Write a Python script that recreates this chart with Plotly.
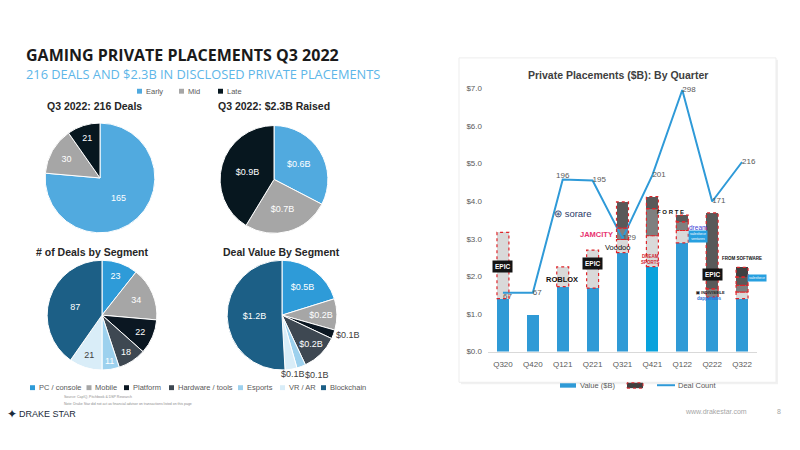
import plotly.graph_objects as go

W, H = 800, 450
def px(x): return x / W
def py(y): return 1 - y / H

# ---------------- data ----------------
stage_labels = ["Early", "Mid", "Late"]
deal_counts = [165, 30, 21]
raised_values = [0.75, 0.60, 0.95]          # slice sizes as drawn
raised_text = ["$0.6B", "$0.7B", "$0.9B"]   # labels as printed

segment_labels = ["PC / console", "Mobile", "Platform", "Hardware / tools",
                  "Esports", "VR / AR", "Blockchain"]
segment_deals = [23, 34, 22, 18, 11, 21, 87]
segment_values = [0.46, 0.21, 0.06, 0.25, 0.06, 0.08, 1.16]
segment_value_text = ["$0.5B", "$0.2B", "$0.1B", "$0.2B", "$0.1B", "$0.1B", "$1.2B"]

quarters = ["Q320", "Q420", "Q121", "Q221", "Q321", "Q421", "Q122", "Q222", "Q322"]
value_b = [1.41, 0.97, 1.73, 1.69, 2.63, 2.26, 2.89, 1.45, 1.41]
big_deal_1 = [1.76, 0, 0.52, 1.01, 0.35, 0.82, 0.33, 0.22, 0.17]
big_deal_2 = [0, 0, 0, 0, 0.30, 0.72, 0.23, 2.02, 0.18]
big_deal_3 = [0, 0, 0, 0, 0.70, 0.32, 0.18, 0, 0.22]
big_deal_4 = [0, 0, 0, 0, 0, 0, 0, 0, 0.26]
deal_count = [67, 67, 196, 195, 129, 201, 298, 171, 216]

# ---------------- styles ----------------
stage_colors = ["#51AADF", "#A6A6A6", "#07171F"]
segment_colors = ["#2E9BD8", "#A6A6A6", "#0B1722", "#3E4852", "#9DD1EE", "#D9EDF8", "#1C5F86"]
BLUE = "#2F9AD6"
bar_colors = [BLUE] * 9
bar_colors[5] = "#08A2DC"
seg_colors = [
    ["#D9D9D9"] * 7 + ["#7F7F7F", "#D9D9D9"],
    ["#7F7F7F"] * 7 + ["#595959", "#7F7F7F"],
    ["#595959"] * 9,
    ["#404040"] * 9,
]
FONT = "Arial"
GRAY_TXT = "#595959"

fig = go.Figure()

def pie_domain(cx, cy, r):
    return dict(x=[px(cx - r), px(cx + r)], y=[py(cy + r), py(cy - r)])

# Pie 1: deals by stage
fig.add_trace(go.Pie(
    labels=stage_labels, values=deal_counts, text=[str(v) for v in deal_counts],
    textinfo="text", sort=False, direction="clockwise", rotation=0,
    marker=dict(colors=stage_colors, line=dict(color="white", width=1)),
    domain=pie_domain(100, 177.5, 56), insidetextorientation="horizontal",
    textfont=dict(family=FONT, size=9, color="white"), showlegend=False, hoverinfo="label+value"))

# Pie 2: raised by stage
fig.add_trace(go.Pie(
    labels=stage_labels, values=raised_values, text=raised_text,
    textinfo="text", sort=False, direction="clockwise", rotation=0,
    marker=dict(colors=stage_colors, line=dict(color="white", width=1)),
    domain=pie_domain(274, 179, 55), insidetextorientation="horizontal",
    textfont=dict(family=FONT, size=9, color="white"), showlegend=False, hoverinfo="label+text"))

# Pie 3: deals by segment
seg_txt_col = ["white"] * 7
seg_txt_col[5] = "#404040"
deal_pos = ["inside"] * 7
deal_pos[4] = "none"   # small slice labelled separately at full size
fig.add_trace(go.Pie(
    labels=segment_labels, values=segment_deals, text=[str(v) for v in segment_deals],
    textinfo="text", sort=False, direction="clockwise", rotation=0,
    marker=dict(colors=segment_colors, line=dict(color="white", width=1)),
    domain=pie_domain(102, 317.5, 56), insidetextorientation="horizontal",
    textposition=deal_pos,
    textfont=dict(family=FONT, size=9, color=seg_txt_col), showlegend=False, hoverinfo="label+value"))

# Pie 4: value by segment
val_pos = ["inside", "inside", "outside", "inside", "none", "none", "inside"]
fig.add_trace(go.Pie(
    labels=segment_labels, values=segment_values, text=segment_value_text,
    textinfo="text", sort=False, direction="clockwise", rotation=0,
    marker=dict(colors=segment_colors, line=dict(color="white", width=1)),
    domain=pie_domain(282, 317.5, 56), insidetextorientation="horizontal",
    textposition=val_pos,
    insidetextfont=dict(family=FONT, size=9, color="white"),
    outsidetextfont=dict(family=FONT, size=9, color="#404040"),
    showlegend=False, hoverinfo="label+text"))

# Right chart: stacked bars
fig.add_trace(go.Bar(x=quarters, y=value_b, name="Value ($B)", width=0.4,
                     marker=dict(color=bar_colors, line=dict(width=0)), showlegend=False))
for seg, cols in zip([big_deal_1, big_deal_2, big_deal_3, big_deal_4], seg_colors):
    fig.add_trace(go.Bar(x=quarters, y=seg, width=0.4, showlegend=False,
                         marker=dict(color=cols, line=dict(width=0)), hoverinfo="skip"))

text_pos = ["bottom right", "middle right", "top center"] + ["middle right"] * 6
fig.add_trace(go.Scatter(x=quarters, y=deal_count, yaxis="y2", mode="lines+text",
                         name="Deal Count", text=[str(v) for v in deal_count],
                         textposition=text_pos,
                         textfont=dict(family=FONT, size=8, color=GRAY_TXT),
                         line=dict(color="#2F9AD8", width=2), showlegend=False, cliponaxis=False))

shapes = []
# card behind right chart
shapes.append(dict(type="rect", xref="paper", yref="paper", x0=px(461), x1=px(778), y0=py(388), y1=py(57),
                   fillcolor="#F1F1F1", line=dict(width=0), layer="below"))
shapes.append(dict(type="rect", xref="paper", yref="paper", x0=px(459), x1=px(776), y0=py(386), y1=py(55),
                   fillcolor="white", line=dict(color="#EDEDED", width=1), layer="below"))

# dashed outlines of big deals, computed from data
for i in range(len(quarters)):
    base = value_b[i]
    for seg in [big_deal_1, big_deal_2, big_deal_3, big_deal_4]:
        h = seg[i]
        if h > 0:
            shapes.append(dict(type="rect", xref="x", yref="y", x0=i - 0.2, x1=i + 0.2,
                               y0=base, y1=base + h, line=dict(color="#E0262B", width=1.2, dash="dot")))
            base += h

annotations = []
def ann(text, x, y, size, color="#262626", anchor="left", family=FONT, **kw):
    annotations.append(dict(text=text, x=px(x), y=py(y), xref="paper", yref="paper",
                            xanchor=anchor, yanchor="middle", showarrow=False,
                            font=dict(family=family, size=size, color=color), **kw))

def sq(x, y, color, s=5):
    shapes.append(dict(type="rect", xref="paper", yref="paper", x0=px(x), x1=px(x + s),
                       y0=py(y + s / 2), y1=py(y - s / 2), fillcolor=color, line=dict(width=0)))

# titles
ann("<b>GAMING PRIVATE PLACEMENTS Q3 2022</b>", 24, 52, 16, "#1A1A1A", family="Open Sans")
ann("216 DEALS AND $2.3B IN DISCLOSED PRIVATE PLACEMENTS", 24, 71, 12.8, "#5DB6E8", family="Open Sans")
ann("<b>Q3 2022: 216 Deals</b>", 45, 104, 10.5, "#262626")
ann("<b>Q3 2022: $2.3B Raised</b>", 216, 104, 10.5, "#262626")
ann("<b># of Deals by Segment</b>", 34, 253, 10.5, "#262626")
ann("<b>Deal Value By Segment</b>", 221, 253, 10.5, "#262626")

# labels of the smallest slices
ann(str(segment_deals[4]), 109, 364, 9, "white", anchor="center")
ann(segment_value_text[5], 293, 378, 9, "#404040", anchor="center")
ann(segment_value_text[4], 316.5, 379, 9, "#404040", anchor="center")

# top legend
for (x, lab, col) in [(137, "Early", stage_colors[0]), (179, "Mid", stage_colors[1]), (218, "Late", stage_colors[2])]:
    sq(x, 89, col)
    ann(lab, x + 7, 89, 7.5, GRAY_TXT)

# bottom legend
leg_x = [30, 86.5, 124, 169, 238, 280, 321]
for x, lab, col in zip(leg_x, segment_labels, segment_colors):
    sq(x, 391.5, col)
    ann(lab, x + 6.5, 391.5, 7.5, GRAY_TXT)

ann("Source: CapIQ, Pitchbook & DSP Research", 62, 401, 3.5, "#8C8C8C")
ann("Note: Drake Star did not act as financial advisor on transactions listed on this page", 62, 408, 3.5, "#8C8C8C")

# footer
ann("✦", 5, 418, 12, "#1B2A3A")
ann("DRAKE STAR", 17, 418.5, 9, "#1B2A3A", family="Liberation Sans Narrow, Arial")
ann("www.drakestar.com", 683, 416, 7, "#A6A6A6")
ann("8", 775, 416, 7, "#A6A6A6")

# right chart title & legend
ann("<b>Private Placements ($B): By Quarter</b>", 617.5, 72.5, 10.5, "#404040", anchor="center")
shapes.append(dict(type="rect", xref="paper", yref="paper", x0=px(560), x1=px(576), y0=py(391.5), y1=py(387),
                   fillcolor=BLUE, line=dict(width=0)))
ann("Value ($B)", 578, 389, 7.5, GRAY_TXT)
shapes.append(dict(type="rect", xref="paper", yref="paper", x0=px(627), x1=px(643), y0=py(392), y1=py(386.5),
                   fillcolor="#404040", line=dict(color="#E0262B", width=1, dash="dot")))
shapes.append(dict(type="line", xref="paper", yref="paper", x0=px(657), x1=px(675), y0=py(389), y1=py(389),
                   line=dict(color="#2F9AD8", width=2)))
ann("Deal Count", 676, 389, 7.5, GRAY_TXT)

# company marks (as text)
def logo(text, xi, yv, size, color="#111", bg=None, **kw):
    d = dict(text=text, x=xi, y=yv, xref="x", yref="y", showarrow=False,
             font=dict(family=FONT, size=size, color=color), xanchor="center", yanchor="middle")
    if bg:
        d.update(bgcolor=bg, borderpad=1)
    d.update(kw)
    annotations.append(d)

logo("<b>EPIC</b>", 0, 2.26, 6.5, "white", bg="#141414", borderpad=2)
logo("<b>ROBLOX</b>", 1.96, 1.93, 7.5, "#111")
logo("<b>EPIC</b>", 3.0, 2.34, 6.5, "white", bg="#141414", borderpad=2)
logo("⊛ sorare", 2.35, 3.67, 9.5, "#2B3A67")
logo("<b>JAMCITY</b>", 3.13, 3.12, 7.5, "#E8336F")
logo("Voodoo", 3.84, 2.77, 7.5, "#111")
logo("<b>DREAM<br>SPORTS</b>", 4.95, 2.44, 4.5, "#D0202E")
logo("<b>F O R T E</b>", 5.62, 3.70, 6, "#111")
logo("dream", 6.52, 3.30, 6.5, "#3D3BD6")
logo("salesforce<br>ventures", 6.52, 3.05, 3.5, "white", bg="#27A0E0")
logo("<b>EPIC</b>", 7.01, 2.04, 6.5, "white", bg="#141414", borderpad=2)
logo("<b>▣ INDIVISIBLE</b>", 6.93, 1.58, 4, "#222")
logo("<b>dapperlabs</b>", 6.9, 1.42, 4.5, "#2E6FD6")
logo("<b>FROM SOFTWARE</b>", 8.0, 2.47, 4.5, "#111")
logo("salesforce", 8.5, 1.96, 3.5, "white", bg="#27A0E0")
logo("LUCKY PLAY", 8.62, 1.73, 3, "#666")
logo("Mythical Games", 8.65, 1.56, 3, "#B44BD6")

fig.update_layout(
    width=W, height=H, margin=dict(l=0, r=0, t=0, b=0),
    paper_bgcolor="white", plot_bgcolor="rgba(0,0,0,0)",
    barmode="stack", bargap=0.6, showlegend=False,
    shapes=shapes, annotations=annotations,
    font=dict(family=FONT, color=GRAY_TXT),
    xaxis=dict(domain=[px(488), px(757)], anchor="y", type="category", range=[-0.5, 8.5],
               showline=True, linecolor="#D9D9D9", linewidth=1, ticks="", showgrid=False,
               ticklabelstandoff=5,
               tickfont=dict(family=FONT, size=8, color=GRAY_TXT)),
    yaxis=dict(domain=[py(354.7), py(86)], range=[0, 7], dtick=1, tickprefix="$", tickformat=".1f",
               showgrid=False, zeroline=False, showline=False, ticklabelstandoff=5,
               tickfont=dict(family=FONT, size=8, color=GRAY_TXT)),
    yaxis2=dict(overlaying="y", range=[0, 300], visible=False),
)

fig.write_html("out.html")
